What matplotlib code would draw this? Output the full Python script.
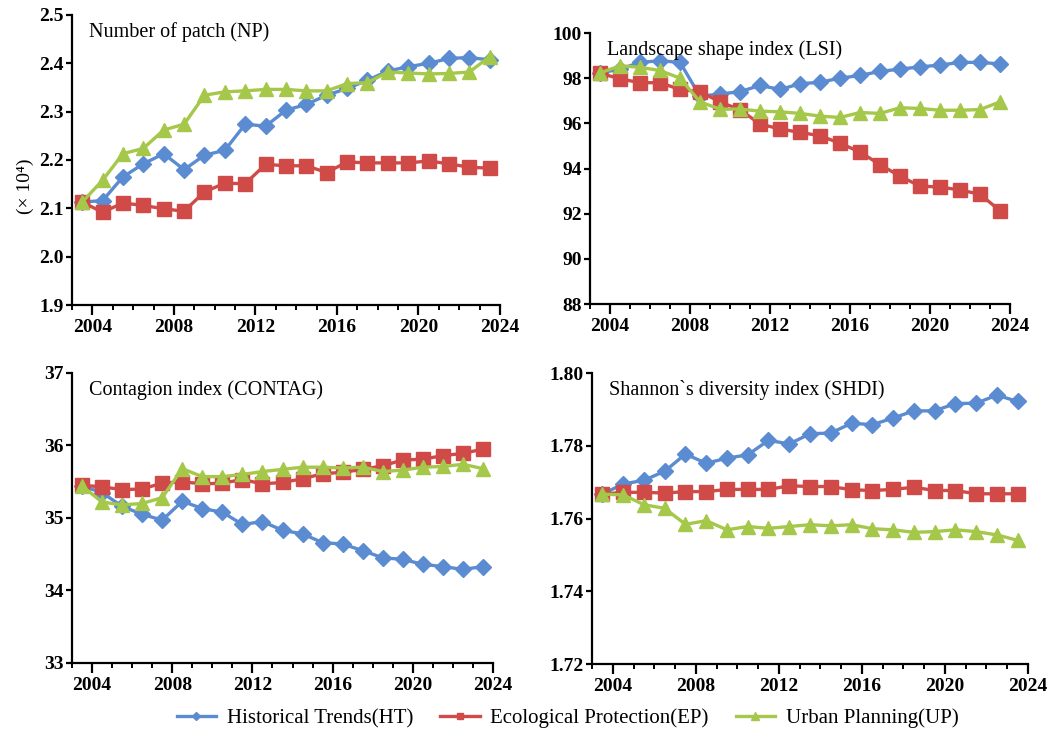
import numpy as np
import matplotlib
matplotlib.use("Agg")
import matplotlib.pyplot as plt
from matplotlib.ticker import MultipleLocator, FormatStrFormatter

plt.rcParams['font.family'] = ['Liberation Serif', 'DejaVu Serif']

# Annual values, 2003-2023
years = list(range(2003, 2024))

np_ht = [2.113, 2.116, 2.165, 2.192, 2.213, 2.180, 2.210, 2.220, 2.274, 2.270, 2.303,
         2.315, 2.334, 2.348, 2.365, 2.384, 2.393, 2.400, 2.410, 2.412, 2.407]
np_ep = [2.113, 2.092, 2.111, 2.106, 2.099, 2.094, 2.134, 2.152, 2.151, 2.191, 2.188,
         2.188, 2.174, 2.196, 2.194, 2.194, 2.194, 2.198, 2.192, 2.185, 2.183]
np_up = [2.113, 2.158, 2.213, 2.224, 2.262, 2.274, 2.334, 2.341, 2.343, 2.346, 2.346,
         2.343, 2.343, 2.358, 2.360, 2.382, 2.380, 2.378, 2.379, 2.382, 2.414]

lsi_ht = [98.23, 98.40, 98.70, 98.77, 98.70, 97.20, 97.30, 97.40, 97.68, 97.50, 97.75,
          97.82, 98.00, 98.12, 98.30, 98.40, 98.50, 98.58, 98.70, 98.70, 98.63]
lsi_ep = [98.22, 97.97, 97.80, 97.80, 97.50, 97.40, 96.95, 96.60, 95.97, 95.75, 95.60,
          95.45, 95.12, 94.73, 94.17, 93.66, 93.22, 93.18, 93.05, 92.86, 92.13]
lsi_up = [98.23, 98.55, 98.48, 98.34, 98.00, 96.95, 96.63, 96.63, 96.54, 96.51, 96.44,
          96.32, 96.26, 96.48, 96.44, 96.69, 96.66, 96.58, 96.58, 96.61, 96.95]

contag_ht = [35.44, 35.35, 35.16, 35.05, 34.97, 35.23, 35.13, 35.08, 34.91, 34.95, 34.83,
             34.78, 34.66, 34.64, 34.55, 34.45, 34.43, 34.36, 34.33, 34.29, 34.33]
contag_ep = [35.45, 35.43, 35.39, 35.40, 35.48, 35.50, 35.47, 35.48, 35.53, 35.47, 35.49,
             35.54, 35.61, 35.63, 35.67, 35.72, 35.80, 35.81, 35.86, 35.89, 35.95]
contag_up = [35.44, 35.22, 35.18, 35.20, 35.28, 35.68, 35.57, 35.57, 35.60, 35.64, 35.67,
             35.70, 35.70, 35.69, 35.70, 35.64, 35.66, 35.70, 35.71, 35.74, 35.68]

shdi_ht = [1.7667, 1.7695, 1.7705, 1.7730, 1.7777, 1.7752, 1.7766, 1.7775, 1.7815, 1.7805, 1.7833,
           1.7835, 1.7862, 1.7858, 1.7876, 1.7896, 1.7896, 1.7916, 1.7917, 1.7939, 1.7922]
shdi_ep = [1.7667, 1.7672, 1.7672, 1.7670, 1.7674, 1.7674, 1.7680, 1.7680, 1.7680, 1.7690, 1.7688,
           1.7688, 1.7679, 1.7677, 1.7680, 1.7686, 1.7677, 1.7677, 1.7668, 1.7668, 1.7668]
shdi_up = [1.7667, 1.7665, 1.7638, 1.7628, 1.7584, 1.7594, 1.7569, 1.7578, 1.7573, 1.7578, 1.7583,
           1.7580, 1.7583, 1.7572, 1.7569, 1.7562, 1.7564, 1.7569, 1.7564, 1.7555, 1.7540]

series_names = ['Historical Trends(HT)', 'Ecological Protection(EP)', 'Urban Planning(UP)']
colors = ['#5B8BD0', '#D04A48', '#A5C84A']
markers = ['D', 's', '^']
msizes = [8.5, 9.5, 10.5]

panels = [
    dict(title='Number of patch (NP)', data=[np_ht, np_ep, np_up],
         ylim=(1.9, 2.5), step=0.1, fmt='%.1f',
         rect=[0.0685, 0.5906, 0.4072, 0.3893]),
    dict(title='Landscape shape index (LSI)', data=[lsi_ht, lsi_ep, lsi_up],
         ylim=(88, 100), step=2, fmt='%d',
         rect=[0.5614, 0.5919, 0.3996, 0.3638]),
    dict(title='Contagion index (CONTAG)', data=[contag_ht, contag_ep, contag_up],
         ylim=(33, 37), step=1, fmt='%d',
         rect=[0.0685, 0.1101, 0.4006, 0.3893]),
    dict(title='Shannon`s diversity index (SHDI)', data=[shdi_ht, shdi_ep, shdi_up],
         ylim=(1.72, 1.80), step=0.02, fmt='%.2f',
         rect=[0.5633, 0.1087, 0.4148, 0.3906]),
]

fig = plt.figure(figsize=(10.51, 7.45), dpi=100)
fig.patch.set_facecolor('white')

# each value sits in the middle of its year interval
x = np.array(years) + 0.5

handles = []
for p in panels:
    ax = fig.add_axes(p['rect'])
    for vals, c, m, ms, name in zip(p['data'], colors, markers, msizes, series_names):
        h, = ax.plot(x, vals, color=c, marker=m, markersize=ms, linewidth=2.4,
                     markeredgecolor=c, label=name)
        if len(handles) < 3:
            handles.append(h)
    ax.set_xlim(2003, 2024)
    ax.set_ylim(*p['ylim'])
    ax.xaxis.set_minor_locator(MultipleLocator(1))
    ax.set_xticks([2004, 2008, 2012, 2016, 2020, 2024])
    ax.yaxis.set_major_locator(MultipleLocator(p['step']))
    ax.yaxis.set_major_formatter(FormatStrFormatter(p['fmt']))
    for s in ['top', 'right']:
        ax.spines[s].set_visible(False)
    for s in ['left', 'bottom']:
        ax.spines[s].set_linewidth(1.6)
    ax.tick_params(axis='x', which='major', direction='out', length=7, width=1.6,
                   labelsize=14, pad=3)
    ax.tick_params(axis='x', which='minor', direction='out', length=3.5, width=1.4)
    ax.tick_params(axis='y', which='major', direction='out', length=4, width=1.6,
                   labelsize=14, pad=2)
    for lab in ax.get_xticklabels() + ax.get_yticklabels():
        lab.set_fontweight('bold')
    ax.text(0.04, 0.975, p['title'], transform=ax.transAxes, ha='left', va='top',
            fontsize=14.5)
    ax.set_facecolor('none')

fig.text(0.024, 0.75, '(× 10⁴)', rotation=90, ha='center', va='center', fontsize=14)

fig.legend(handles=handles, labels=series_names, loc='center', ncol=3,
           bbox_to_anchor=(0.54, 0.036), frameon=False, fontsize=15,
           handlelength=1.9, markerscale=0.5, columnspacing=1.3, handletextpad=0.5)

fig.savefig('out.png', dpi=100)
